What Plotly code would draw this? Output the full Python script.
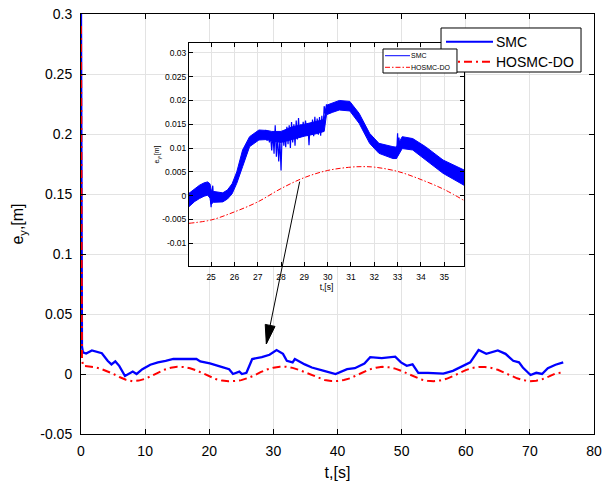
import plotly.graph_objects as go

# ---------------- data ----------------
# main plot, SMC
t_smc = [0, 0.05, 0.15, 0.3, 0.8, 1.7, 3.25, 4.15, 4.75, 5.35, 5.96, 6.86, 7.47, 8.07, 8.67,
         9.57, 10.8, 12.0, 13.2, 14.4, 16.2, 18.0, 18.6, 20.1, 21.9, 23.1, 23.7, 24.3, 24.7,
         25.1, 25.8, 26.7, 28.2, 29.4, 30.5, 31.5, 32.1, 33.0, 33.35, 34.9, 36.0, 37.9, 39.7,
         41.5, 42.7, 44.2, 45.1, 46.9, 49.0, 49.9, 50.8, 51.7, 52.6, 54.1, 56.5, 58.0, 59.5,
         60.7, 62.0, 63.2, 65.0, 66.2, 67.4, 68.3, 68.9, 70.1, 71.0, 71.9, 72.8, 74.0, 75.2]
smc = [0.3, 0.1, 0.023, 0.018, 0.017, 0.0196, 0.0173, 0.011, 0.008, 0.0105, 0.0068, -0.0017,
       0.0003, 0.002, 0.0, 0.004, 0.0077, 0.0097, 0.011, 0.0125, 0.0125, 0.0125, 0.0105, 0.0088,
       0.006, 0.004, 0.0, 0.001, 0.002, 0.0, 0.001, 0.0125, 0.014, 0.016, 0.02, 0.0168, 0.011,
       0.0097, 0.0125, 0.008, 0.0054, 0.0026, 0.0, 0.004, 0.0048, 0.0088, 0.014, 0.0133, 0.0145,
       0.0097, 0.0068, 0.008, 0.001, 0.001, 0.0003, 0.0026, 0.0068, 0.0097, 0.02, 0.0168, 0.0196,
       0.0168, 0.011, 0.0097, 0.0054, -0.0008, 0.001, 0.0, 0.0048, 0.0077, 0.0097]

# main plot, HOSMC-DO
t_hos = [0, 0.05, 0.15, 0.3, 1, 2, 3, 4, 5, 6, 7, 8, 9, 10, 11, 12, 13, 14, 15, 16, 17, 18, 19,
         20, 21, 22, 23, 24, 25, 26, 27, 28, 29, 30, 31, 32, 33, 34, 35, 36, 37, 38, 39, 40, 41,
         42, 43, 44, 45, 46, 47, 48, 49, 50, 51, 52, 53, 54, 55, 56, 57, 58, 59, 60, 61, 62, 63,
         64, 65, 66, 67, 68, 69, 70, 71, 72, 73, 74, 75]
hos = [0.29, 0.1, 0.014, 0.0068, 0.0065, 0.0058, 0.0045, 0.0025, 0.0002, -0.0025, -0.0048,
       -0.006, -0.0055, -0.004, -0.0015, 0.001, 0.0035, 0.0052, 0.006, 0.0059, 0.0048, 0.003,
       0.0005, -0.002, -0.0042, -0.0055, -0.006, -0.0058, -0.0051, -0.0034, -0.0013, 0.0015,
       0.0038, 0.0053, 0.006, 0.006, 0.0051, 0.0034, 0.0013, -0.0008, -0.003, -0.005, -0.0058,
       -0.0058, -0.005, -0.0035, -0.001, 0.0015, 0.0038, 0.0053, 0.006, 0.0056, 0.0045, 0.0025,
       0.0, -0.0025, -0.0045, -0.0057, -0.006, -0.0054, -0.004, -0.0018, 0.0008, 0.0032, 0.005,
       0.0059, 0.0058, 0.005, 0.0035, 0.0012, -0.0013, -0.0036, -0.0052, -0.006, -0.0056,
       -0.0042, -0.002, 0.0005, 0.0012]

# inset, SMC chattering band (upper / lower envelope)
t_band = [24.05, 24.3, 24.5, 24.7, 24.85, 24.95, 25.0, 25.1, 25.3, 25.5, 25.7, 25.9, 26.1,
          26.35, 26.65, 27.05, 27.4, 27.6, 28.0, 28.5, 29.0, 29.5, 29.85, 29.95, 30.2, 30.5,
          30.95, 31.35, 31.8, 32.2, 32.8, 32.95, 33.2, 33.65, 34.2, 34.95, 35.85]
band_up = [0.0005, 0.0015, 0.0022, 0.0027, 0.0029, 0.0025, 0.0012, 0.0009, 0.0007, 0.0006,
           0.0012, 0.0025, 0.005, 0.0096, 0.0124, 0.0138, 0.0137, 0.0135, 0.0135, 0.0145,
           0.015, 0.0155, 0.016, 0.019, 0.0195, 0.02, 0.0198, 0.0173, 0.0131, 0.011, 0.0103,
           0.0102, 0.0124, 0.012, 0.0103, 0.0075, 0.0054]
band_lo = [-0.0023, -0.0012, -0.0006, -0.0001, 0.0001, -0.0005, -0.0018, -0.0014, -0.0013,
           -0.0013, -0.0007, 0.0004, 0.0026, 0.0061, 0.0103, 0.0117, 0.0118, 0.0115, 0.0112,
           0.0118, 0.0125, 0.013, 0.0135, 0.017, 0.0175, 0.018, 0.0178, 0.0152, 0.011, 0.0089,
           0.0078, 0.0078, 0.0099, 0.0096, 0.0075, 0.0047, 0.0022]

# inset, SMC spikes
t_spk = [24.97, 25.0, 25.03, 25.07, 25.1, None,
         27.3, 27.35, 27.4, 27.45, 27.5, 27.55, 27.6, 27.65, 27.7, 27.75, 27.8, 27.85, 27.9,
         27.95, 28.0, 28.04, 28.08, 28.12, 28.16, 28.2, 28.25, 28.3, 28.35, 28.4, 28.45, 28.5,
         28.55, 28.6, 28.65, 28.7, 28.75, 28.8, 28.85, 28.9, 28.95, 29.0, 29.05, 29.1, 29.15,
         29.2, 29.25, 29.3, 29.35, 29.4, 29.45, 29.5, 29.55, 29.6, 29.65, 29.7, 29.75, 29.8,
         29.85, 29.9, 29.95, None,
         32.95, 33.0, 33.03, 33.06, 33.1]
spk = [-0.0008, -0.0024, 0.0005, 0.0021, -0.0005, None,
       0.0128, 0.0138, 0.0115, 0.0132, 0.0112, 0.0125, 0.0095, 0.0133, 0.0088, 0.0148, 0.0082,
       0.0125, 0.0072, 0.0118, 0.0053, 0.0122, 0.0136, 0.0105, 0.0138, 0.0102, 0.0145, 0.0108,
       0.0148, 0.0100, 0.0155, 0.0112, 0.0150, 0.0105, 0.0158, 0.0118, 0.0163, 0.0122, 0.0150,
       0.0128, 0.0155, 0.0130, 0.0158, 0.0135, 0.0150, 0.0106, 0.0152, 0.0128, 0.0160, 0.0125,
       0.0166, 0.0132, 0.0162, 0.0128, 0.0165, 0.0126, 0.0168, 0.0135, 0.0188, 0.0172, 0.0192,
       None,
       0.0078, 0.0131, 0.0085, 0.0122, 0.0098]

# inset, HOSMC-DO
t_hin = [24.05, 25, 26, 27, 28, 29, 30, 31, 31.5, 32, 33, 34, 35, 35.85]
hin = [-0.0058, -0.0051, -0.0034, -0.0013, 0.0015, 0.0038, 0.0053, 0.006, 0.0061, 0.006,
       0.0051, 0.0034, 0.0013, -0.001]

# ticks
x_ticks = [0, 10, 20, 30, 40, 50, 60, 70, 80]
y_ticks = [-0.05, 0, 0.05, 0.1, 0.15, 0.2, 0.25, 0.3]
y_labels = ["-0.05", "0", "0.05", "0.1", "0.15", "0.2", "0.25", "0.3"]
xi_ticks = [25, 26, 27, 28, 29, 30, 31, 32, 33, 34, 35]
yi_ticks = [-0.01, -0.005, 0, 0.005, 0.01, 0.015, 0.02, 0.025, 0.03]
yi_labels = ["-0.01", "-0.005", "0", "0.005", "0.01", "0.015", "0.02", "0.025", "0.03"]

legend_names = ["SMC", "HOSMC-DO"]

# arrow (tail in inset, tip on main curve) in main data coords
arrow_tail = (34.1, 0.1603)
arrow_tip = (28.9, 0.025)

BLUE = "#0000ff"
RED = "#ff0000"
GRID = "#e3e3e3"
FONT = "Liberation Sans, Arial, sans-serif"
MAIN_DASH = "8px,4px,2px,4px"
INSET_DASH = "5px,2px,1.5px,2px"

fig = go.Figure()

# main traces
fig.add_trace(go.Scatter(x=t_smc, y=smc, mode="lines", name=legend_names[0],
                         line=dict(color=BLUE, width=2.3), showlegend=False))
fig.add_trace(go.Scatter(x=t_hos, y=hos, mode="lines", name=legend_names[1],
                         line=dict(color=RED, width=2, dash=MAIN_DASH), showlegend=False))

# inset traces
fig.add_trace(go.Scatter(x=t_band + t_band[::-1], y=band_up + band_lo[::-1],
                         mode="lines", fill="toself", fillcolor=BLUE,
                         line=dict(color=BLUE, width=1), showlegend=False,
                         xaxis="x2", yaxis="y2", hoverinfo="skip"))
fig.add_trace(go.Scatter(x=t_spk, y=spk, mode="lines", name=legend_names[0],
                         line=dict(color=BLUE, width=1.2), connectgaps=False,
                         xaxis="x2", yaxis="y2", showlegend=False))
fig.add_trace(go.Scatter(x=t_hin, y=hin, mode="lines", name=legend_names[1], line_shape="spline",
                         line=dict(color=RED, width=1, dash=INSET_DASH),
                         xaxis="x2", yaxis="y2", showlegend=False))

axis_common = dict(showline=True, linecolor="black", linewidth=1, mirror="ticks",
                   ticks="inside", tickcolor="black", showgrid=True, gridcolor=GRID,
                   gridwidth=1, zeroline=False, automargin=False, ticklabeloverflow="allow")

fig.update_layout(
    width=603, height=484,
    margin=dict(l=81, r=9, t=14, b=50),
    paper_bgcolor="white", plot_bgcolor="white",
    font=dict(family=FONT, color="black"),
    showlegend=False,
    xaxis=dict(domain=[0, 1], range=[0, 80], tickvals=x_ticks, ticklen=5,
               tickfont=dict(size=14), ticklabelstandoff=4,
               title=dict(text="t,[s]", font=dict(size=16), standoff=9), **axis_common),
    yaxis=dict(domain=[0, 1], range=[-0.05, 0.3], tickvals=y_ticks, ticktext=y_labels,
               ticklen=5, tickfont=dict(size=14), ticklabelstandoff=5,
               title=dict(text="e<sub>y</sub>,[m]", font=dict(size=16), standoff=12),
               **axis_common),
    xaxis2=dict(domain=[0.2105, 0.7466], range=[24.05, 35.85], tickvals=xi_ticks,
                ticklen=4, tickfont=dict(size=8.5), anchor="y2", ticklabelstandoff=3,
                title=dict(text="t,[s]", font=dict(size=8.5), standoff=2), **axis_common),
    yaxis2=dict(domain=[0.4, 0.931], range=[-0.01477, 0.03208], tickvals=yi_ticks,
                ticktext=yi_labels, ticklen=4, tickfont=dict(size=8.5), anchor="x2",
                title=dict(text="e<sub>y</sub>,[m]", font=dict(size=7), standoff=1),
                **axis_common),
)


def add_legend(box, rows, line_x, text_x, size, widths, dashes, colors):
    fig.add_shape(type="rect", xref="paper", yref="paper", x0=box[0], x1=box[1],
                  y0=box[2], y1=box[3], fillcolor="white",
                  line=dict(color="black", width=1), layer="above")
    for name, yy, w, d, c in zip(legend_names, rows, widths, dashes, colors):
        fig.add_shape(type="line", xref="paper", yref="paper", x0=line_x[0], x1=line_x[1],
                      y0=yy, y1=yy, line=dict(color=c, width=w, dash=d), layer="above")
        fig.add_annotation(xref="paper", yref="paper", x=text_x, y=yy, text=name,
                           showarrow=False, xanchor="left", yanchor="middle",
                           font=dict(size=size, color="black"))


# main legend
add_legend(box=(0.7018, 0.9747, 0.8619, 0.9667), rows=(0.934, 0.8864),
           line_x=(0.7115, 0.8031), text_x=0.8060, size=14,
           widths=(2, 2), dashes=("solid", MAIN_DASH), colors=(BLUE, RED))
# inset legend
add_legend(box=(0.5887, 0.7329, 0.8595, 0.9167), rows=(0.9007, 0.8731),
           line_x=(0.5926, 0.6413), text_x=0.6400, size=7,
           widths=(1, 1), dashes=("solid", INSET_DASH), colors=(BLUE, RED))

# arrow: line + filled head (head in pixel units anchored at the tip)
fig.add_shape(type="line", xref="x", yref="y",
              x0=arrow_tail[0], y0=arrow_tail[1], x1=arrow_tip[0], y1=arrow_tip[1],
              line=dict(color="black", width=1), layer="above")
fig.add_shape(type="path", xref="x", yref="y", xsizemode="pixel", ysizemode="pixel",
              xanchor=arrow_tip[0], yanchor=arrow_tip[1],
              path="M0,0 L8.7,17.6 L-1.1,19.6 Z",
              fillcolor="black", line=dict(color="black", width=1), layer="above")

# the page's default 8 px body margin would shift the figure; remove it
fig.write_html("out.html",
               config={"displayModeBar": False},
               post_script="document.body.style.margin='0';"
                           "document.body.style.overflow='hidden';")
